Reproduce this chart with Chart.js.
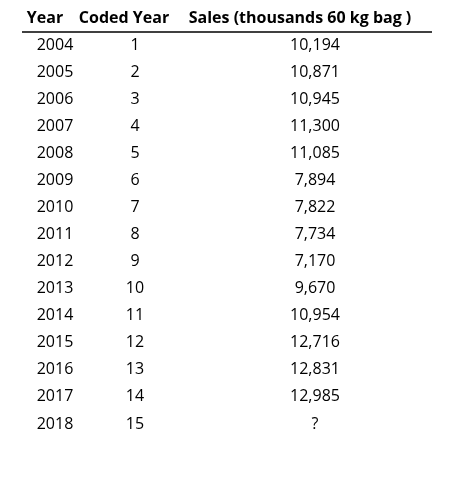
<!DOCTYPE html>
<html>
<head>
<meta charset="utf-8">
<script src="https://cdn.jsdelivr.net/npm/chart.js@4"></script>
<style>
  html, body { margin: 0; padding: 0; background: #fff; }
  #wrap { width: 449px; height: 485px; }
</style>
</head>
<body>
<div id="wrap"><canvas id="c"></canvas></div>
<script>
// Table data
const headers = ['Year', 'Coded Year', 'Sales (thousands 60 kg bag )'];
const years = ['2004', '2005', '2006', '2007', '2008', '2009', '2010', '2011', '2012', '2013', '2014', '2015', '2016', '2017', '2018'];
const coded = ['1', '2', '3', '4', '5', '6', '7', '8', '9', '10', '11', '12', '13', '14', '15'];
const sales = ['10,194', '10,871', '10,945', '11,300', '11,085', '7,894', '7,822', '7,734', '7,170', '9,670', '10,954', '12,716', '12,831', '12,985', '?'];

// column centres on the hidden x scale
const headX = [45, 124, 300];
const colX = [55, 135, 315];
const FONT = "'Open Sans', sans-serif";

const tablePlugin = {
    id: 'table',
    afterDatasetsDraw(chart) {
        const ctx = chart.ctx;
        const x = chart.scales.x;
        const y = chart.scales.y;
        ctx.save();
        ctx.fillStyle = '#000';
        ctx.textAlign = 'center';
        ctx.textBaseline = 'middle';

        ctx.font = 'bold 16px ' + FONT;
        const hy = y.getPixelForValue(0);
        headers.forEach((h, i) => ctx.fillText(h, x.getPixelForValue(headX[i]), hy));

        // rule under header
        ctx.strokeStyle = '#000';
        ctx.lineWidth = 1.5;
        ctx.beginPath();
        ctx.moveTo(x.getPixelForValue(22), hy + 14);
        ctx.lineTo(x.getPixelForValue(432), hy + 14);
        ctx.stroke();

        ctx.font = '16px ' + FONT;
        years.forEach((yr, r) => {
            const py = y.getPixelForValue(r + 1);
            ctx.fillText(yr, x.getPixelForValue(colX[0]), py);
            ctx.fillText(coded[r], x.getPixelForValue(colX[1]), py);
            ctx.fillText(sales[r], x.getPixelForValue(colX[2]), py);
        });
        ctx.restore();
    }
};

new Chart(document.getElementById('c'), {
    type: 'scatter',
    data: {
        labels: headers.slice(0, 1).concat(years),
        datasets: [{ data: [], pointRadius: 0 }]
    },
    options: {
        responsive: true,
        maintainAspectRatio: false,
        animation: false,
        layout: { padding: { top: 18, bottom: 61, left: 0, right: 0 } },
        plugins: { legend: { display: false }, tooltip: { enabled: false } },
        scales: {
            x: { type: 'linear', min: 0, max: 449, display: false },
            y: { type: 'category', labels: headers.slice(0, 1).concat(years), offset: false, display: false }
        }
    },
    plugins: [tablePlugin]
});
</script>
</body>
</html>
